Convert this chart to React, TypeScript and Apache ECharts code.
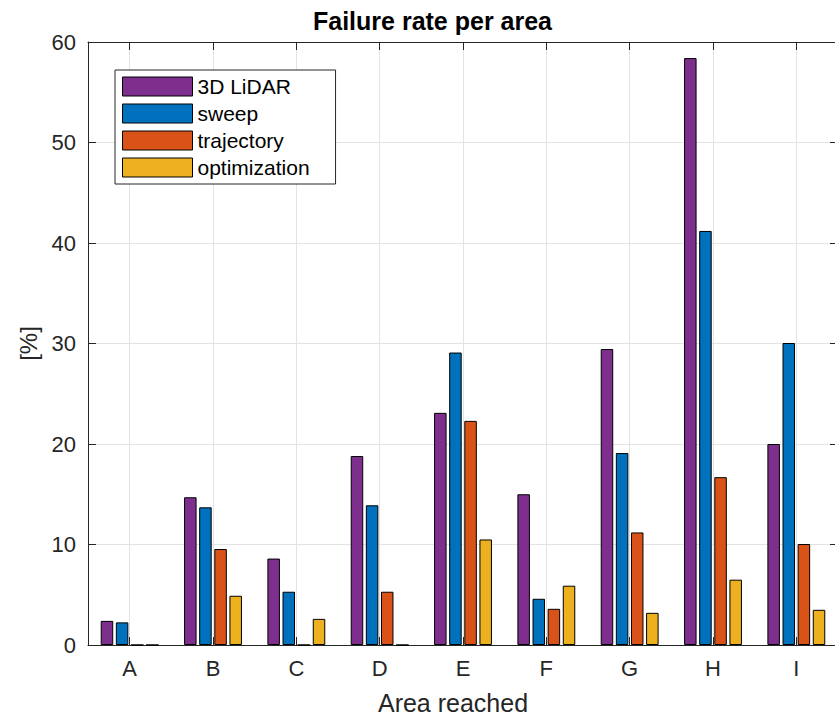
import React, { useEffect, useRef } from "react";
import * as echarts from "echarts";

const categories = ["A", "B", "C", "D", "E", "F", "G", "H", "I"];
const lidar = [2.4, 14.7, 8.6, 18.8, 23.1, 15.0, 29.45, 58.4, 20.0];
const sweep = [2.25, 13.7, 5.3, 13.9, 29.1, 4.6, 19.1, 41.2, 30.05];
const trajectory = [0, 9.55, 0, 5.3, 22.3, 3.6, 11.2, 16.7, 10.05];
const optimization = [0, 4.9, 2.6, 0, 10.5, 5.9, 3.2, 6.5, 3.5];
const seriesNames = ["3D LiDAR", "sweep", "trajectory", "optimization"];
const colors = ["#7E2F8E", "#0072BD", "#D95319", "#EDB120"];

const FONT = "'Liberation Sans', Arial, Helvetica, sans-serif";
const AX = "#262626";

export default function App() {
  const ref = useRef<HTMLDivElement>(null);
  useEffect(() => {
    if (!ref.current) return;
    const chart = echarts.init(ref.current, undefined, { renderer: "svg" });
    const data = [lidar, sweep, trajectory, optimization];
    chart.setOption({
      animation: false,
      backgroundColor: "#ffffff",
      textStyle: { fontFamily: FONT },
      grid: {
        left: 88,
        top: 42,
        width: 750,
        height: 603,
        containLabel: false,
        outerBoundsMode: "none",
      },
      graphic: [
        {
          type: "text",
          x: 432.5,
          y: 21,
          style: {
            text: "Failure rate per area",
            fontFamily: FONT,
            fontSize: 25,
            fontWeight: "bold",
            fill: "#000",
            textAlign: "center",
            textVerticalAlign: "middle",
          },
        },
      ],
      legend: {
        orient: "vertical",
        left: 115,
        top: 70,
        padding: [6, 26, 6, 7],
        itemWidth: 70,
        itemHeight: 19,
        itemGap: 6,
        icon: "rect",
        backgroundColor: "#ffffff",
        borderColor: AX,
        borderWidth: 1,
        borderRadius: 0,
        itemStyle: { borderColor: "#000", borderWidth: 1 },
        textStyle: { fontFamily: FONT, fontSize: 21, color: "#000" },
        data: seriesNames,
      },
      xAxis: [
        {
          type: "category",
          data: categories,
          position: "bottom",
          name: "Area reached",
          nameLocation: "middle",
          nameGap: 45,
          nameTextStyle: { fontFamily: FONT, fontSize: 25, color: AX, padding: [0, 20, 0, 0] },
          axisLine: { show: true, lineStyle: { color: AX, width: 1 } },
          axisTick: { show: true, inside: true, length: 8, alignWithLabel: true, lineStyle: { color: AX } },
          axisLabel: { fontFamily: FONT, fontSize: 22, color: AX, margin: 12 },
          splitLine: { show: true, alignWithLabel: true, lineStyle: { color: "#e3e3e3", width: 1 } },
        },
        {
          type: "category",
          data: categories,
          position: "top",
          axisLine: { show: true, onZero: false, lineStyle: { color: AX, width: 1 } },
          axisTick: { show: true, inside: true, length: 8, alignWithLabel: true, lineStyle: { color: AX } },
          axisLabel: { show: false },
          splitLine: { show: false },
        },
      ],
      yAxis: [
        {
          type: "value",
          min: 0,
          max: 60,
          interval: 10,
          position: "left",
          name: "[%]",
          nameLocation: "middle",
          nameGap: 48,
          nameTextStyle: { fontFamily: FONT, fontSize: 24, color: AX },
          axisLine: { show: true, lineStyle: { color: AX, width: 1 } },
          axisTick: { show: true, inside: true, length: 8, lineStyle: { color: AX } },
          axisLabel: { fontFamily: FONT, fontSize: 22, color: AX, margin: 12 },
          splitLine: { show: true, lineStyle: { color: "#e3e3e3", width: 1 } },
        },
        {
          type: "value",
          min: 0,
          max: 60,
          interval: 10,
          position: "right",
          axisLine: { show: true, onZero: false, lineStyle: { color: AX, width: 1 } },
          axisTick: { show: true, inside: true, length: 8, lineStyle: { color: AX } },
          axisLabel: { show: false },
          splitLine: { show: false },
        },
      ],
      series: seriesNames.map((name, i) => ({
        name,
        type: "bar",
        xAxisIndex: 0,
        yAxisIndex: 0,
        data: data[i],
        barWidth: 12.5,
        barGap: "21%",
        itemStyle: { color: colors[i], borderColor: "#000", borderWidth: 1 },
      })),
    });
    return () => chart.dispose();
  }, []);
  return (
    <div
      ref={ref}
      style={{ position: "absolute", left: 0, top: 0, width: 835, height: 717 }}
    />
  );
}
